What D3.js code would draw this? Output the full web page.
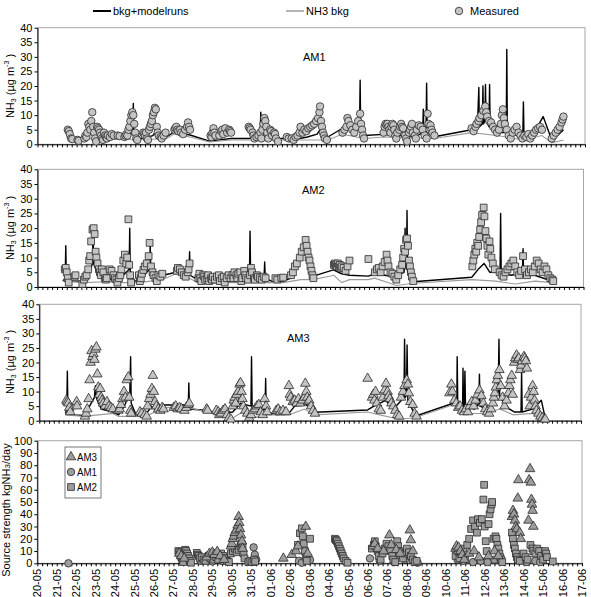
<!DOCTYPE html>
<html><head><meta charset="utf-8">
<script src="https://cdn.jsdelivr.net/npm/d3@7"></script>
<style>
html,body{margin:0;padding:0;background:#fff;}
svg{display:block;font-family:"Liberation Sans",Arial,sans-serif;}
</style></head><body>
<svg id="c" width="591" height="597"></svg>
<script>
// ---------- DATA (time in days since 20-05 00:00) ----------
const dateLabels = ["20-05","21-05","22-05","23-05","24-05","25-05","26-05","27-05","28-05","29-05","30-05","31-05",
  "01-06","02-06","03-06","04-06","05-06","06-06","07-06","08-06","09-06","10-06","11-06","12-06","13-06","14-06","15-06","16-06","17-06"];
const concTicks = [0,5,10,15,20,25,30,35,40];
const sourceTicks = [0,10,20,30,40,50,60,70,80,90,100];
const legendTop = ["bkg+modelruns","NH3 bkg","Measured"];
const legendSource = ["AM3","AM1","AM2"];

const am1Measured = [[1.55,5],[1.6,4.5],[1.65,3.5],[1.72,2],[1.78,1.8],[2.05,1.5],[2.1,1.2],
 [2.4,2],[2.45,3],[2.5,2.5],[2.55,4],[2.6,7],[2.65,6],[2.7,5],[2.75,8],[2.8,11],[2.85,6],[2.9,4],[2.95,2],[3.0,1],[3.05,6],[3.1,5.5],[3.15,5],[3.2,4],
 [3.25,3],[3.3,2],[3.35,1.5],[3.4,4],[3.45,3],[3.5,2.5],[3.55,2],[3.6,3],[3.7,2.5],[3.8,3.5],[3.9,3],[4.1,3],[4.2,2.8],
 [4.45,2.5],[4.5,3],[4.55,3.5],[4.6,3],[4.65,5],[4.7,6],[4.75,8],[4.8,10],[4.85,11],[4.9,10],[4.95,7],[5.0,4],[5.05,2],[5.1,1.5],
 [5.4,4],[5.45,3.5],[5.5,3],[5.55,4],[5.6,2],[5.65,1.5],[5.7,5],[5.75,6],[5.8,7],[5.85,8],[5.9,10],[5.95,11],[6.0,12.5],[6.05,12],[6.1,6],[6.15,4],[6.2,3],[6.3,2.5],[6.35,2],[6.45,3],[6.55,4],
 [7.0,5],[7.05,5.5],[7.1,6],[7.15,5],[7.2,4.5],[7.3,5],[7.35,4],[7.45,3.5],[7.55,5],[7.65,6],[7.7,7.5],[7.75,6],[7.8,5],
 [8.85,3],[8.9,2.5],[8.95,4],[9.0,5.5],[9.05,4],[9.1,3],[9.3,3],[9.4,4.5],[9.45,5],[9.5,3.5],[9.6,5.5],[9.7,4],[9.8,5],[9.85,4.5],[9.9,4],
 [10.8,6],[10.85,5.5],[10.9,5],[11.0,4],[11.05,3],[11.1,2],[11.2,2.5],[11.3,3],[11.4,4],[11.45,2],[11.5,5],[11.55,7],[11.6,9],[11.65,8],[11.7,6],[11.75,4],[11.8,2],[11.9,5],[11.95,4.5],[12.0,3],[12.1,4],[12.15,3.5],[12.2,2],[12.3,1],
 [12.75,2.5],[12.85,2],[13.0,2],[13.1,1.5],[13.2,2.5],[13.3,3],[13.4,4],[13.45,6],[13.55,4],[13.65,5],[13.75,4.5],[13.85,5.5],[13.95,6],[14.05,6.5],[14.15,7],[14.25,8],[14.35,9],[14.42,11],[14.45,13],[14.5,8],[14.55,6],[14.6,4],[14.65,3],[14.7,2],[14.8,1.5],
 [15.6,4],[15.7,5],[15.8,6],[15.85,9],[15.9,8],[16.0,6.5],[16.1,5],[16.2,4],[16.3,6],[16.4,8],[16.5,10.5],[16.55,7],[16.6,5],[16.65,3],[16.7,2],
 [17.7,4],[17.75,6],[17.8,7],[17.85,6.5],[17.9,7],[17.95,6],[18.0,5],[18.05,4],[18.1,6],[18.15,7],[18.2,6.5],[18.25,5],[18.3,3],[18.35,2],[18.4,4],[18.5,5],[18.55,6],[18.6,7],[18.65,6],[18.7,5.5],[18.8,3],[18.85,2],[18.9,1],[19.0,4],[19.05,5],[19.1,6],[19.15,7],[19.2,4],[19.3,3],[19.35,2],[19.4,5],[19.5,6.5],[19.6,6],[19.7,5],[19.8,3],[19.9,2],[19.95,10.5],[20.0,7],[20.05,5],[20.1,6.5],[20.15,5],[20.2,4],[20.3,3],
 [22.2,5.5],[22.3,4.5],[22.4,6],[22.45,7],[22.55,8],[22.6,9],[22.7,10],[22.8,11.5],[22.9,13],[22.95,11],[23.0,9.5],[23.1,8],[23.2,7.5],[23.3,6],[23.4,5],[23.5,4],[23.6,5],[23.7,7],[23.75,10],[23.8,12],[23.85,9],[23.9,7],[24.0,5],[24.1,3],[24.2,2],
 [24.3,4],[24.4,5],[24.5,6],[24.6,4],[24.7,3],[24.8,2],[24.9,3],[25.0,2.5],[25.1,3.5],[25.2,2],[25.3,3],[25.4,4],[25.5,5],[25.6,5.5],[25.7,6],[25.8,5],
 [26.3,2],[26.4,3],[26.5,4],[26.6,5],[26.7,6],[26.8,7.5],[26.85,8.5],[26.9,9.5]];
const am1Model = [[1.5,2.5],[1.8,2],[2.4,2],[2.6,3],[2.78,4],[2.8,7.5],[2.83,4],[3.0,2.5],[3.2,2],[4.4,2],[4.7,3],[4.87,4],[4.9,14],[4.93,4],[5.1,2],[5.4,2],[5.9,3],[6.0,4],[6.2,2.5],[6.6,2.5],[7.0,4.3],[7.5,3.5],[7.8,3.2],[8.8,1.1],[9.3,1.5],[9.9,2],[10.8,2],[11.38,2.5],[11.42,11],[11.46,2.5],[12.3,2],[13.4,2],[13.8,2.5],[14.3,3.5],[14.45,5],[14.85,2.5],[15.6,5.5],[16.3,5],[16.47,6],[16.5,22],[16.53,5],[16.7,3],[17.7,3.4],[18.5,3],[19.3,2.5],[19.7,4],[19.73,12],[19.76,4],[19.87,5],[19.9,21],[19.93,4],[20.3,2.6],[22.2,5],[22.5,6],[22.57,19.5],[22.6,6],[22.75,7],[22.78,20],[22.81,7],[22.88,8],[22.91,20.5],[22.94,8],[23.09,6],[23.12,20.5],[23.15,6],[23.5,4],[23.97,4],[24.0,32.5],[24.03,4],[24.5,3],[24.82,3],[24.85,14.5],[24.88,3],[25.4,4],[25.86,9.5],[26.3,1.5],[26.6,3],[26.9,5]];
const am1Bkg = [[1.5,2],[3.2,1.8],[4.4,1.8],[5.1,1.5],[6.6,2],[7.0,3.5],[7.8,2.5],[8.8,0.8],[9.9,1.5],[10.8,1.5],[12.3,1.5],[13.5,1.5],[14.85,1.5],[15.6,3.5],[16.7,2],[17.7,2.5],[20.3,2],[22.2,4],[23.5,3],[24.8,1.5],[25.8,3],[26.3,0.5],[26.9,1.5]];

const am2Measured = [[1.4,6],[1.45,6.5],[1.5,5],[1.55,3],[1.6,1.5],[1.9,3.5],[1.95,4],
 [2.3,1],[2.38,2.5],[2.45,3.5],[2.52,4],[2.6,6],[2.65,9],[2.7,10.5],[2.75,15.5],[2.82,19.5],[2.88,20],[2.93,18],[2.98,12],[3.02,10],[3.08,8],[3.15,6],[3.2,5],[3.25,4],[3.3,6],[3.38,5],[3.45,3],[3.5,2.5],[3.55,3],
 [3.7,6],[3.8,5.5],[3.9,4],
 [3.97,3],[4.05,2.5],[4.1,1.5],[4.18,3],[4.25,4],[4.3,6],[4.4,9],[4.48,11],[4.55,8],[4.6,10],[4.66,23],[4.7,7.5],[4.75,4],[4.8,1.5],
 [5.2,4],[5.25,2],[5.3,3],[5.35,4.5],[5.43,5.8],[5.5,7],[5.6,8],[5.7,10.5],[5.75,15],[5.82,7],[5.9,5],[5.95,4],[6.05,3],[6.12,2],[6.2,4],[6.3,3.5],[6.4,4.5],
 [7.15,5.5],[7.2,6.5],[7.3,6],[7.4,5],[7.5,4],[7.6,3.5],[7.7,5],[7.75,6],[7.8,8],
 [8.25,3],[8.3,4.5],[8.35,3],[8.4,2],[8.5,4],[8.55,3.5],[8.6,2.5],[8.7,3],[8.75,4],[8.8,2],[8.9,3],[8.95,2.5],[9.0,3.5],[9.1,2.5],[9.2,3.5],[9.3,4],[9.35,2],[9.45,3],[9.55,3.5],[9.6,1.5],[9.7,3],[9.8,4],[9.9,3],
 [10.0,4],[10.05,3],[10.1,5],[10.2,4],[10.25,3],[10.3,4.5],[10.4,5],[10.45,2],[10.5,3],[10.6,5.5],[10.65,4],[10.7,3],[10.8,2.5],[10.9,4],[10.95,6.5],[11.0,5],[11.1,3],[11.15,2.5],[11.25,4],[11.3,3.5],[11.4,3],[11.5,2.5],[11.6,3.5],[11.7,3],
 [12.2,3],[12.3,2.5],[12.5,3],[12.6,3.2],
 [13.0,4],[13.1,5],[13.2,7],[13.3,8],[13.45,10],[13.55,12],[13.65,13.5],[13.75,16],[13.8,14],[13.85,12],[13.9,10],[13.95,9],[14.0,7],[14.05,5.5],[14.1,4],[14.15,3],
 [15.2,7.5],[15.25,8],[15.3,7.5],[15.35,7],[15.4,8],[15.45,7],[15.5,7.5],[15.55,6.5],[15.6,7],[15.7,6.5],[15.8,5.5],[15.9,7],[16.0,9],[16.97,9.5],
 [17.3,5],[17.4,6],[17.5,6.5],[17.6,5],[17.7,7],[17.8,8.5],[17.9,11],[17.95,9],[18.0,7],[18.1,5],[18.2,4.5],[18.3,3.5],[18.4,2.5],[18.5,4],[18.6,6],[18.7,7.5],[18.75,10],[18.8,13],[18.85,12],[18.9,16],[18.95,16.5],[19.0,14],[19.05,9],[19.1,7],[19.15,5],[19.2,3.5],[19.27,2],
 [22.3,7],[22.35,9],[22.4,11],[22.45,13],[22.5,12],[22.55,15],[22.6,14],[22.65,17],[22.7,19.5],[22.75,22],[22.8,24.5],[22.88,27],[22.92,24],[22.97,19],[23.02,16.5],[23.07,14],[23.12,11],[23.18,15.5],[23.22,13],[23.28,10],[23.35,8],[23.45,6],
 [23.7,5],[23.8,4],[23.9,3.5],[24.0,5],[24.1,6],[24.2,7],[24.3,8],[24.4,9],[24.5,7],[24.6,5],[24.7,4],[24.8,5.5],[24.9,10.5],[25.0,6],[25.1,4],
 [25.2,5],[25.3,6],[25.4,5],[25.5,7],[25.6,9],[25.7,8],[25.8,6],[25.9,5],[26.0,7],[26.1,6],[26.2,4],[26.3,3],[26.4,2.5],[26.45,2]];
const am2Model = [[1.3,2],[1.42,3],[1.45,14],[1.48,3],[1.7,2],[2.3,2],[2.6,4],[2.82,8],[2.85,20],[2.88,8],[3.1,4],[3.6,3],[4.0,2],[4.4,4],[4.7,6],[4.73,20],[4.76,4],[5.0,2],[5.3,2.5],[5.6,5],[5.76,6],[5.78,15],[5.81,5],[6.1,3],[6.45,4],[7.1,5],[7.5,4],[7.77,5],[7.8,12],[7.83,4],[8.2,2.5],[9.0,2.5],[10.0,2.5],[10.87,4],[10.9,19],[10.93,4],[11.3,3],[11.62,3.5],[11.65,8.5],[11.68,3],[12.0,2],[12.6,2],[13.0,3],[13.4,8],[13.5,12],[13.75,14],[13.9,7],[14.15,3.7],[15.17,5.8],[15.6,4.5],[16.0,4],[16.97,3.7],[17.3,4.5],[18.3,3.5],[18.8,5],[18.85,20],[18.88,7],[18.92,6],[18.95,26],[18.98,5],[19.27,1.8],[22.27,3.3],[22.6,6],[22.9,8],[23.2,5],[23.72,5],[23.75,25],[23.78,5],[24.3,4],[24.87,5],[24.9,13],[24.93,4],[25.5,4],[26.45,1.8]];
const am2Bkg = [[1.3,2],[2.3,1.5],[3.6,1.8],[4.0,1.5],[5.2,1.5],[6.4,2.5],[7.1,4.5],[7.8,3],[8.2,1.5],[10,1.5],[11.8,1.5],[12.6,1.5],[13.5,2.5],[14.15,2.5],[15.2,4],[15.6,1.5],[16.0,2.5],[16.97,2.5],[17.3,3],[18.4,0.5],[19.27,1.3],[22.27,2.5],[23.5,2],[24.5,1],[25.5,2],[26.45,1.5]];

const am3Measured = [[1.4,7],[1.45,6.5],[1.5,6],[1.55,4.5],[1.6,3],[1.93,6.5],[1.95,5],
 [2.36,1.5],[2.42,2.5],[2.48,4],[2.55,7.5],[2.6,14],[2.65,20],[2.7,24],[2.75,22],[2.8,23],[2.85,21],[2.9,24.5],[2.95,25.3],[3.0,16],[3.05,11.5],[3.1,9],[3.15,11],[3.2,8],[3.25,7],[3.3,6],[3.4,5],[3.5,6.5],[3.6,5],[3.7,4.5],[3.8,4],
 [4.08,3.5],[4.15,4],[4.22,5.5],[4.3,7.5],[4.38,10],[4.45,8],[4.52,14],[4.6,15],[4.65,8],[4.7,3.5],[4.75,2.5],
 [5.2,3],[5.3,2.5],[5.45,2],[5.55,1.5],[5.6,5],[5.68,7.5],[5.75,9],[5.82,11],[5.87,15.5],[5.92,10],[5.98,6.5],[6.05,5],[6.15,4],[6.25,3.5],[6.35,4.5],[6.42,4],
 [6.95,4.5],[7.05,5],[7.15,4],[7.25,4.5],[7.35,4],[7.5,3.5],[7.6,4.5],[7.7,5.5],[7.75,6],[8.65,4],[8.7,3.5],
 [9.15,3.5],[9.25,3],[9.3,2],[9.4,2.5],[9.5,3.5],[9.6,4],[9.7,2],[9.8,1],[9.9,0.5],[10.0,5],[10.05,7],[10.1,8],[10.15,6],[10.2,9],[10.28,10],[10.35,12.5],[10.4,13],[10.45,10],[10.5,7.5],[10.55,5],[10.65,3.5],[10.75,2.5],[10.85,1],[10.95,2],[11.05,3.5],[11.15,4],[11.25,5],[11.35,5.5],[11.45,3],[11.55,2],[11.65,7.5],[11.72,5],[11.78,3],
 [12.25,3.5],[12.35,4],[12.45,3],[12.6,3.5],[12.75,3],[12.9,12],[12.95,9],[13.0,8],[13.1,6.5],[13.2,7],[13.3,6],[13.4,7.5],
 [13.5,6],[13.6,7],[13.7,8],[13.75,12.8],[13.8,10],[13.85,8],[13.9,6.5],[13.95,7],[14.05,5],[14.15,3.5],[14.25,2.5],
 [16.97,14.5],
 [17.2,8],[17.27,9],[17.32,7],[17.38,10],[17.45,6],[17.55,4],[17.65,3.5],[17.75,8],[17.85,10.5],[17.92,12.8],[18.0,10],[18.05,8.5],[18.12,7.5],[18.2,6],[18.3,5],[18.4,3.5],[18.5,2],[18.6,1.5],[18.7,8],[18.8,10],[18.88,12],[18.99,14],[19.05,12.5],[19.1,9.5],[19.18,6.5],[19.3,5.5],[19.4,2.5],[19.5,1.5],
 [21.2,9.5],[21.3,12.5],[21.35,10],[21.45,7],[21.55,6],[21.65,4.5],[21.75,5],[21.85,3.5],[21.95,3],
 [22.05,4],[22.15,3],[22.25,5],[22.35,6.5],[22.45,5],[22.55,7],[22.65,9],[22.75,10.5],[22.85,8.5],[22.95,6],[23.05,4],[23.15,3],[23.25,2.5],
 [23.35,4],[23.45,6],[23.5,8],[23.55,9.5],[23.6,11.5],[23.65,14],[23.7,15.5],[23.78,17.5],[23.85,12],[23.95,8],[24.05,5],[24.15,7],[24.25,9.5],[24.3,12],[24.35,14],[24.42,15.5],[24.47,9],
 [24.55,20],[24.6,21.5],[24.67,22.5],[24.72,21],[24.78,21.5],[24.85,17.5],[24.9,19],[24.95,20.5],[25.05,22],[25.1,21.5],[25.15,20.5],[25.2,18],
 [25.3,9],[25.35,5],[25.42,8],[25.5,12],[25.55,10],[25.6,7],[25.65,5],[25.7,3.5],[25.8,2.5],[25.9,1.5],[26.0,1],[26.1,0.5],[26.15,0.5]];
const am3Model = [[1.35,2.5],[1.42,4],[1.45,17],[1.48,3],[1.7,2],[2.3,1.8],[2.6,5],[2.85,8],[2.9,12],[2.95,8],[3.2,4],[3.8,3],[4.1,2],[4.4,5],[4.68,10],[4.72,22],[4.75,6],[5.0,2],[5.5,2],[5.8,5],[6.1,3],[6.45,5.4],[7.7,5.4],[7.73,13],[7.76,4],[8.7,3.5],[9.2,2.5],[10.0,3],[10.4,6],[10.94,5],[10.97,22],[11.0,5],[11.3,3],[11.67,4],[11.7,14.5],[11.73,3],[12.3,2],[12.9,2.5],[13.2,5],[13.7,6],[14.25,2.9],[16.97,3.7],[17.3,5],[17.9,7],[18.3,4],[18.85,8],[18.88,28],[18.92,8],[18.98,9],[19.01,26],[19.05,7],[19.42,2],[19.5,1.7],[21.4,6],[21.58,6],[21.6,22],[21.63,6],[21.88,5],[21.9,18],[21.93,5],[21.97,5],[22.0,17],[22.03,5],[22.5,4],[22.72,6],[22.75,16],[22.78,5],[23.3,3.5],[23.72,10],[23.76,28],[23.8,8],[24.3,4],[24.55,3],[24.9,3],[24.93,17],[24.96,3],[25.5,4],[25.95,7],[26.15,1]];
const am3Bkg = [[1.35,2],[2.3,1.5],[3.8,2.5],[4.1,1.5],[5.5,1.5],[6.45,4.5],[7.7,4.5],[8.7,3],[9.9,0.5],[10.5,3],[10.9,0.8],[11.8,2],[12.9,2],[13.7,4],[14.25,2],[16.97,3],[17.6,2],[18.6,0.5],[19.42,1],[21.4,5.5],[22.2,2.5],[23.0,2.5],[23.8,4],[24.5,2],[25.5,2.5],[26.15,0.5]];

const srcAM3 = [[7.3,8],[7.4,6],[7.55,4],[8.7,5],[8.85,8],[9.0,9],[9.1,7],[9.25,9.5],[9.4,6],[9.6,3],
 [9.95,14],[10.0,16],[10.05,20],[10.1,22],[10.15,25],[10.22,27],[10.3,31],[10.35,38],[10.38,33],[10.42,28],[10.47,23],[10.52,18],[10.55,12],
 [12.65,4],[13.08,7],[13.3,10],[13.4,14],[13.8,30],[13.9,8],
 [17.25,14],[17.35,16],[17.5,12],[17.8,10],[18.1,23],[18.2,15],[18.45,11],[18.65,8],[19.15,27],[19.2,19],[19.3,10],
 [21.5,12],[21.55,14],[21.65,13],[21.75,10],[21.85,7],[21.95,3],[22.2,8],[22.45,10],[22.7,5],[23.2,6],[23.5,10],[23.7,6],
 [24.4,38],[24.45,43],[24.5,40],[24.55,35],[24.6,30],[24.65,28],[24.7,53],[24.73,68],[24.8,25],[24.85,20],[25.25,35],[25.28,68],[25.33,77],[25.37,66],[25.4,52],[25.43,48],[25.46,43],[25.5,30]];
const srcAM1 = [[1.6,0],[8.4,2],[9.0,1.5],[9.5,2],[11.12,13],[11.18,7],[11.25,3],[13.45,2],[13.6,0.5],[14.02,2.7],
 [17.1,4],[17.6,2],[18.35,1],[18.9,3],[19.55,0.5],[21.6,3],[21.9,2],[22.4,1],[22.8,2],[23.15,1],[23.5,3],[24.9,3],[25.15,1],[25.6,2],[25.85,1]];
const srcAM2 = [[7.25,10],[7.3,9],[7.35,7],[7.4,5],[7.45,3],[7.5,1],[7.6,11],[7.65,10],[7.7,8],[7.75,6],[7.8,4],[7.85,2],[7.9,0.5],
 [8.2,8.5],[8.25,7],[8.3,6],[8.35,4],[8.45,5],[8.55,3],[8.65,2],[8.8,6],[8.9,4],[9.05,3],[9.2,5],[9.3,3],[9.45,8],[9.55,6],[9.65,4],[9.75,2],[9.85,1],
 [9.95,8],[10.05,10],[10.15,12],[10.25,9],[10.35,11],[10.45,14],[10.5,16],[10.55,13],[10.6,8],[10.65,4],
 [10.85,1],[10.95,2],[11.05,1],[11.15,3],[11.2,1.5],
 [13.4,15],[13.5,24.5],[13.6,28.5],[13.65,22],[13.7,16],[13.75,10],[13.8,5],[13.85,2],[14.02,20],
 [15.3,20],[15.35,19],[15.4,18],[15.45,16],[15.5,14],[15.55,12],[15.6,10],[15.65,8],[15.7,6],[15.75,4],[15.85,2],[15.95,0.5],
 [17.2,12],[17.3,15],[17.35,18],[17.4,14],[17.5,10],[17.55,6],[17.65,3],[17.75,8],[17.85,12],[17.95,16],[18.05,14],[18.15,10],[18.25,6],[18.3,3],[18.4,1],[18.5,18],[18.55,14],[18.6,10],[18.7,7],[18.8,4],[18.9,8],[19.0,12],[19.1,9],[19.2,6],[19.3,3],[19.4,1],[19.5,2],
 [21.5,6],[21.6,10],[21.7,4],[21.8,8],[21.9,12],[22.0,5],[22.1,15],[22.2,20],[22.3,28],[22.4,35],[22.5,30],[22.6,25],[22.65,36],[22.75,33],[22.85,36],[22.93,52],[22.97,64],[23.0,30],[23.05,18],[23.1,10],[23.2,32],[23.25,40],[23.3,44],[23.35,48],[23.38,50],[23.45,20],[23.55,22],[23.6,20],[23.65,15],[23.7,12],[23.75,8],[23.8,5],[23.85,3],[23.9,1],
 [24.4,25],[24.45,20],[24.5,15],[24.55,12],[24.6,8],[24.65,5],[24.7,3],[24.8,2],[25.0,8],[25.1,5],[25.2,3],[25.35,15],[25.45,12],[25.5,10],[25.6,8],[25.7,12],[25.8,10],[25.9,6],[26.0,3],[26.1,10],[26.15,8],[26.2,5],[26.5,1.5]];

// ---------- DRAWING ----------
const svg = d3.select("#c");
const FONT = 11;
const symCircle = d3.symbol().type(d3.symbolCircle).size(44);
const symSquare = d3.symbol().type(d3.symbolSquare).size(46);
const symTri = d3.symbol().type(d3.symbolTriangle).size(40);

function makePanel(p) {
  const x = d3.scaleLinear().domain([0, dateLabels.length - 1]).range([p.left, p.right]);
  const y = d3.scaleLinear().domain([0, p.ymax]).range([p.bottom, p.top]);
  const g = svg.append("g");
  g.append("rect").attr("x", p.left).attr("y", p.top).attr("width", p.right - p.left).attr("height", p.bottom - p.top)
    .attr("fill", "none").attr("stroke", "#a6a6a6").attr("stroke-width", 1);
  const ya = g.append("g").attr("transform", `translate(${p.left},0)`)
    .call(d3.axisLeft(y).tickValues(p.ticks).tickSize(3).tickSizeOuter(0).tickPadding(2));
  ya.selectAll("text").attr("font-size", FONT).attr("font-family", "Liberation Sans, Arial, sans-serif").attr("fill", "#000");
  ya.select(".domain").attr("stroke", "#000");
  const minor = d3.range(0, dateLabels.length - 1 + 0.001, 0.25);
  const xa = g.append("g").attr("transform", `translate(0,${p.bottom})`)
    .call(d3.axisBottom(x).tickValues(minor).tickSize(3).tickSizeOuter(0).tickFormat(""));
  xa.select(".domain").attr("stroke", "#000");
  xa.selectAll(".tick line").attr("stroke", "#000");
  return {x, y, g};
}

function drawConc(P, measured, model, bkg, sym, label, lx, ly) {
  const {x, y, g} = P;
  const line = d3.line().x(d => x(d[0])).y(d => y(d[1]));
  const lg = g.append("g");
  lg.append("path").datum(model).attr("d", line).attr("fill", "none").attr("stroke", "#000").attr("stroke-width", 1.4).attr("stroke-linejoin", "round");
  lg.append("path").datum(bkg).attr("d", line).attr("fill", "none").attr("stroke", "#9a9a9a").attr("stroke-width", 1.1);
  g.append("g").selectAll("path").data(measured).join("path")
    .attr("d", sym).attr("transform", d => `translate(${x(d[0])},${y(d[1])})`)
    .attr("fill", "#c4c4c4").attr("stroke", "#2a2a2a").attr("stroke-width", 0.8);
  g.append("text").attr("x", lx).attr("y", ly).attr("font-size", FONT).text(label);
}

function concTitle(cy) {
  const t = svg.append("text").attr("transform", `translate(14,${cy}) rotate(-90)`).attr("text-anchor", "middle").attr("font-size", FONT);
  t.append("tspan").text("NH");
  t.append("tspan").attr("font-size", 7).attr("dy", 2).text("3");
  t.append("tspan").attr("dy", -2).text(" (µg m");
  t.append("tspan").attr("font-size", 7).attr("dy", -5).text("-3");
  t.append("tspan").attr("dy", 5).text(" )");
}

const P1 = makePanel({left: 37.5, right: 585, top: 27.7, bottom: 144.3, ymax: 40, ticks: concTicks});
drawConc(P1, am1Measured, am1Model, am1Bkg, symCircle, "AM1", 303, 61);
concTitle(86);
const P2 = makePanel({left: 37.5, right: 583.5, top: 169.3, bottom: 287, ymax: 40, ticks: concTicks});
drawConc(P2, am2Measured, am2Model, am2Bkg, symSquare, "AM2", 302, 194);
concTitle(228);
const P3 = makePanel({left: 39.3, right: 581, top: 304.3, bottom: 420.7, ymax: 40, ticks: concTicks});
drawConc(P3, am3Measured, am3Model, am3Bkg, symTri, "AM3", 287, 342);
concTitle(362);

const P4 = makePanel({left: 37.3, right: 582, top: 440.7, bottom: 563.3, ymax: 100, ticks: sourceTicks});
{
  const {x, y, g} = P4;
  const sets = [[srcAM1, symCircle], [srcAM2, symSquare], [srcAM3, symTri]];
  sets.forEach(([data, sym]) => {
    g.append("g").selectAll("path").data(data).join("path")
      .attr("d", sym).attr("transform", d => `translate(${x(d[0])},${y(d[1])})`)
      .attr("fill", "#9c9c9c").attr("stroke", "#2a2a2a").attr("stroke-width", 0.8);
  });
  g.append("g").selectAll("text").data(dateLabels).join("text")
    .attr("transform", (d, i) => `translate(${x(i) + 4},569) rotate(-90)`)
    .attr("text-anchor", "end").attr("font-size", FONT).text(d => d);
  g.append("rect").attr("x", 65).attr("y", 447).attr("width", 36).attr("height", 51).attr("fill", "#fff").attr("stroke", "#555").attr("stroke-width", 0.8);
  const lsyms = [symTri, symCircle, symSquare];
  legendSource.forEach((name, i) => {
    const cy = 457 + i * 15;
    g.append("path").attr("d", lsyms[i]).attr("transform", `translate(71,${cy})`).attr("fill", "#9c9c9c").attr("stroke", "#2a2a2a").attr("stroke-width", 0.8);
    g.append("text").attr("x", 77).attr("y", cy + 4).attr("font-size", 10).attr("textLength", 20).attr("lengthAdjust", "spacingAndGlyphs").text(name);
  });
  const t = svg.append("text").attr("transform", `translate(10,510) rotate(-90)`).attr("text-anchor", "middle").attr("font-size", FONT);
  t.append("tspan").text("Source strength kgNH");
  t.append("tspan").attr("font-size", 8).text("3");
  t.append("tspan").text("/day");
}

{
  const lg = svg.append("g").attr("font-size", FONT);
  lg.append("line").attr("x1", 93).attr("x2", 111).attr("y1", 11).attr("y2", 11).attr("stroke", "#000").attr("stroke-width", 2);
  lg.append("text").attr("x", 113).attr("y", 15).text(legendTop[0]);
  lg.append("line").attr("x1", 286).attr("x2", 304).attr("y1", 11).attr("y2", 11).attr("stroke", "#9a9a9a").attr("stroke-width", 1.5);
  lg.append("text").attr("x", 306).attr("y", 15).text(legendTop[1]);
  lg.append("path").attr("d", symCircle).attr("transform", "translate(459,11)").attr("fill", "#c4c4c4").attr("stroke", "#2a2a2a").attr("stroke-width", 0.8);
  lg.append("text").attr("x", 470).attr("y", 15).text(legendTop[2]);
}
</script>
</body></html>
